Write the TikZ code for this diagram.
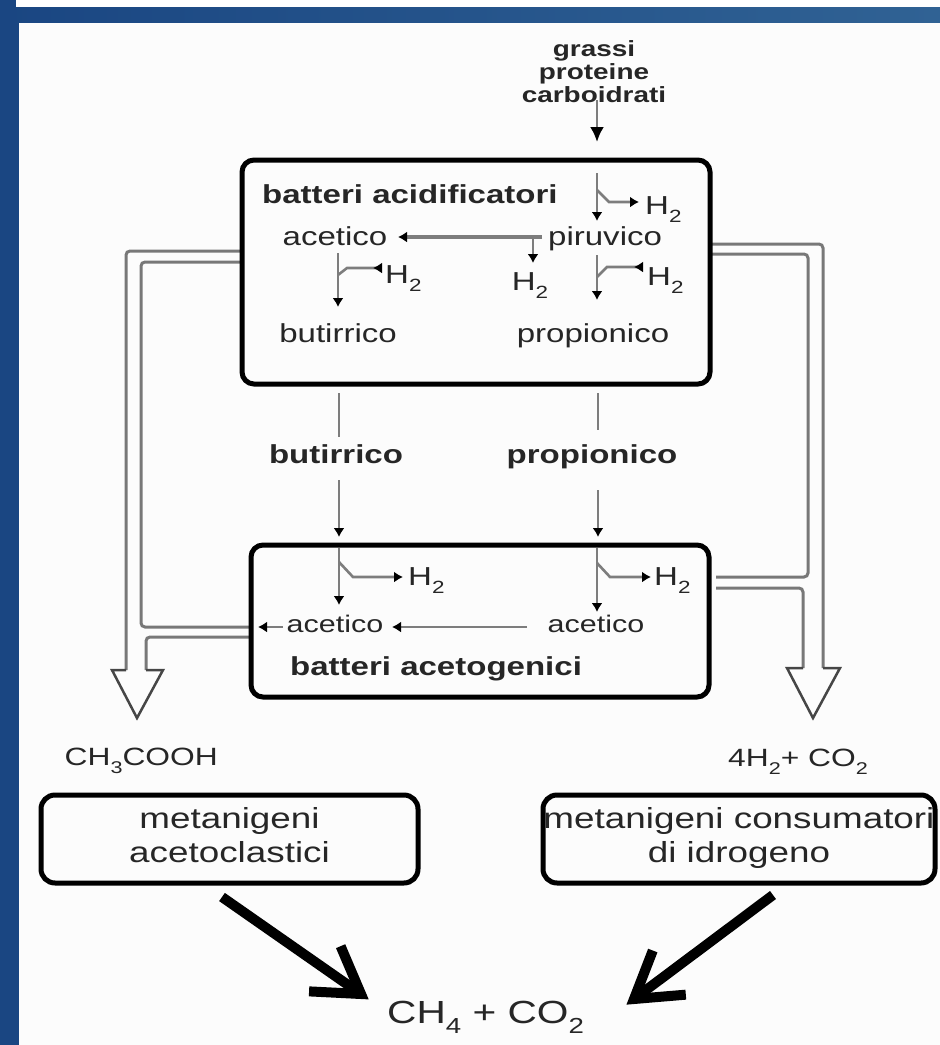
\documentclass[tikz,border=0pt]{standalone}
\usepackage{fontspec}
\setmainfont{Liberation Sans}[FakeStretch=1.27]
\usepackage{graphicx}
\usetikzlibrary{arrows.meta,calc}
\definecolor{bgblue}{RGB}{26,70,130}
\definecolor{bgblue2}{RGB}{48,98,148}
\definecolor{lngray}{RGB}{125,125,125}
\definecolor{hgray}{RGB}{120,120,120}
\definecolor{hdark}{RGB}{70,70,70}
\definecolor{txt}{RGB}{38,38,38}
\definecolor{paper}{RGB}{252,252,252}
\newcommand\mysub[1]{\raisebox{-0.32em}{\scalebox{0.68}{#1}}}
\begin{document}
\begin{tikzpicture}[x=1pt,y=-1pt,
  box/.style={draw=black, line width=5pt, rounded corners=12pt, inner sep=0pt},
  lab/.style={font=\fontsize{26}{28}\selectfont, text=txt, inner sep=0pt, anchor=base},
  blab/.style={font=\fontsize{26}{28}\selectfont\bfseries, text=txt, inner sep=0pt, anchor=base},
  slab/.style={font=\fontsize{24}{26}\selectfont, text=txt, inner sep=0pt, anchor=base},
  mlab/.style={font=\fontsize{25}{27}\selectfont, text=txt, inner sep=0pt, anchor=base},
  blk/.style={font=\fontsize{29}{34}\selectfont, text=txt, inner sep=0pt, anchor=base, align=center},
  ln/.style={draw=lngray, line width=2.6pt},
  arr/.style={ln, -{Latex[length=9pt,width=11pt,color=black]}},
  inarr/.style={ln, -{Latex[reversed,length=9pt,width=11pt,color=black]}},
  hollow/.style={draw=hgray, line width=3pt, rounded corners=4pt},
  hhead/.style={draw=hdark, line width=2.5pt, line join=miter},
  bigarr/.style={draw=black, line width=10pt},
]
\useasboundingbox (0,0) rectangle (940,1045);
% background frame
\fill[bgblue] (0,0) rectangle (940,1045);
\shade[left color=bgblue, right color=bgblue2] (0,7) rectangle (940,23);
\fill[white] (16,0) rectangle (940,7);
\fill[paper] (19,23) rectangle (940,1045);

% ---------- hollow side arrows ----------
\draw[hollow] (242,251) -- (126,251) -- (126,670);
\draw[hollow] (242,262) -- (141,262) -- (141,627) -- (249,627);
\draw[hollow] (249,637) -- (146,637) -- (146,670);
\draw[hhead] (126,670) -- (112,670) -- (137,718) -- (163,670) -- (146,670);

\draw[hollow] (710,244) -- (823,244) -- (823,668);
\draw[hollow] (710,254) -- (808,254) -- (808,577) -- (716,577);
\draw[hollow] (716,588) -- (803,588) -- (803,668);
\draw[hhead] (823,668) -- (840,668) -- (813,718) -- (787,668) -- (803,668);

% ---------- boxes ----------
\node[box, minimum width=468pt, minimum height=224pt] (acid) at (476,272) {};
\node[box, minimum width=458pt, minimum height=152pt] (aceto) at (480,621) {};
\node[box, rounded corners=14pt, minimum width=377pt, minimum height=88pt] (metA) at (229.5,839) {};
\node[box, rounded corners=14pt, minimum width=392pt, minimum height=88pt] (metH) at (739,839) {};

% ---------- feed ----------
\node[font=\fontsize{22}{23}\selectfont\bfseries, text=txt, align=center, inner sep=0pt] (feed) at (594,72) {grassi\\proteine\\carboidrati};
\coordinate (f1) at (597,100);
\coordinate (f2) at (597,142);
\draw[ln, -{Latex[length=15pt,width=14pt,color=black]}] (f1) -- (f2);

% ---------- box 1 content ----------
\node[blab, anchor=base west] (ba) at (262,203) {batteri acidificatori};
\node[lab] (ac1) at (335,245) {acetico};
\node[lab, anchor=base west] (pir) at (548,245) {piruvico};
\node[lab, anchor=base west] (h2a) at (645,214) {H\mysub{2}};
\node[lab] (h2b) at (530,290) {H\mysub{2}};
\node[lab, anchor=base west] (h2c) at (647,285) {H\mysub{2}};
\node[lab, anchor=base west] (h2d) at (385,283) {H\mysub{2}};
\node[lab] (but1) at (338,342) {butirrico};
\node[lab] (pro1) at (593,342) {propionico};

\coordinate (a1) at (597,173); \coordinate (a2) at (597,221);
\draw[arr] (a1) -- (a2);
\coordinate (a3) at (597,190); \coordinate (a4) at (609,202); \coordinate (a5) at (639,202);
\draw[arr] (a3) -- (a4) -- (a5);

\coordinate (p1) at (542,237); \coordinate (p2) at (398,237);
\draw[arr, line width=4pt] (p1) -- (p2);
\coordinate (q1) at (533,238); \coordinate (q2) at (533,263);
\draw[arr] (q1) -- (q2);

\coordinate (r1) at (597,255); \coordinate (r2) at (597,300);
\draw[arr] (r1) -- (r2);
\coordinate (r3) at (597,277); \coordinate (r4) at (607,267); \coordinate (r5) at (643,267);
\draw[inarr] (r3) -- (r4) -- (r5);

\coordinate (l1) at (338,253); \coordinate (l2) at (338,307);
\draw[arr] (l1) -- (l2);
\coordinate (l3) at (338,275); \coordinate (l4) at (347,268); \coordinate (l5) at (382,268);
\draw[inarr] (l3) -- (l4) -- (l5);

% ---------- between boxes ----------
\node[blab] (but2) at (336,463) {butirrico};
\node[blab] (pro2) at (592,463) {propionico};
\coordinate (m1) at (339,393); \coordinate (m2) at (339,437);
\coordinate (m3) at (339,480); \coordinate (m4) at (339,537);
\draw[ln] (m1) -- (m2);
\draw[arr] (m3) -- (m4);
\coordinate (n1) at (598,393); \coordinate (n2) at (598,430);
\coordinate (n3) at (598,490); \coordinate (n4) at (598,537);
\draw[ln] (n1) -- (n2);
\draw[arr] (n3) -- (n4);

% ---------- box 2 content ----------
\node[lab, anchor=base west] (h2e) at (408,585) {H\mysub{2}};
\node[lab, anchor=base west] (h2f) at (654,585) {H\mysub{2}};
\node[slab] (ac2) at (335,632) {acetico};
\node[slab] (ac3) at (596,632) {acetico};
\node[blab, anchor=base west] (bg) at (290,675) {batteri acetogenici};

\coordinate (u1) at (339,548); \coordinate (u2) at (339,605);
\draw[arr] (u1) -- (u2);
\coordinate (u3) at (339,562); \coordinate (u4) at (353,577); \coordinate (u5) at (403,577);
\draw[arr] (u3) -- (u4) -- (u5);
\coordinate (v1) at (597,548); \coordinate (v2) at (597,612);
\draw[arr] (v1) -- (v2);
\coordinate (v3) at (597,563); \coordinate (v4) at (610,577); \coordinate (v5) at (651,577);
\draw[arr] (v3) -- (v4) -- (v5);
\coordinate (w1) at (527,627); \coordinate (w2) at (392,627);
\draw[arr] (w1) -- (w2);
\coordinate (w3) at (283,627); \coordinate (w4) at (258,627);
\draw[arr] (w3) -- (w4);

% ---------- products ----------
\node[mlab, anchor=base east] (acac) at (218,765) {CH\mysub{3}COOH};
\node[mlab, anchor=base west] (hco) at (728,766) {4H\mysub{2}+ CO\mysub{2}};
\node[blk] (tA) at (229.5,862) {metanigeni\\acetoclastici};
\node[blk] (tH) at (739,862) {metanigeni consumatori\\di idrogeno};
\node[font=\fontsize{32}{34}\selectfont, text=txt, inner sep=0pt, anchor=base west] (ch4) at (387,1023) {CH\mysub{4} + CO\mysub{2}};

% ---------- thick arrows ----------
\coordinate (s1) at (222,897); \coordinate (e1) at (361,994);
\draw[bigarr] (s1) -- ($(e1)!5pt!(s1)$);
\draw[bigarr, line join=miter] ($(e1)!52pt!32:(s1)$) -- (e1) -- ($(e1)!52pt!-32:(s1)$);
\coordinate (s2) at (773,895); \coordinate (e2) at (634,999);
\draw[bigarr] (s2) -- ($(e2)!5pt!(s2)$);
\draw[bigarr, line join=miter] ($(e2)!52pt!32:(s2)$) -- (e2) -- ($(e2)!52pt!-32:(s2)$);
\end{tikzpicture}
\end{document}
